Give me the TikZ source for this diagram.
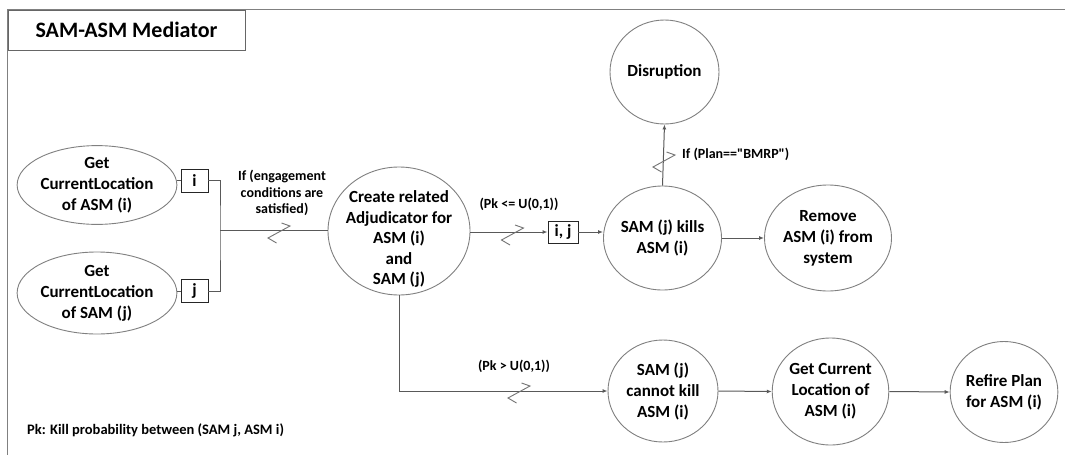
\documentclass[tikz,border=0pt]{standalone}
\usepackage{fontspec}
\setmainfont{Carlito}[Ligatures=TeXOff]
\usetikzlibrary{arrows.meta,shapes.geometric,calc}

\tikzset{
  state/.style={ellipse, draw=black!50, line width=0.9pt, inner sep=0pt,
    align=center, font=\fontsize{17}{21}\selectfont\bfseries},
  portbox/.style={rectangle, draw=black!85, line width=0.9pt, inner sep=0pt,
    font=\fontsize{17}{21}\selectfont\bfseries},
  link/.style={draw=black!65, line width=1pt},
  flow/.style={link, -{Latex[length=5pt,width=4pt]}},
  cond/.style={align=center, font=\fontsize{14}{16.5}\selectfont\bfseries, inner sep=0pt},
  zig/.style={draw=black!55, line width=0.9pt},
}
% zigzag transition mark centred on a point
\newcommand{\zigmark}[1]{\draw[zig] ($(#1)+(2.5,-9)$) -- ++(8.5,3) -- ++(-22,12) -- ++(8.5,5);}

\begin{document}
\begin{tikzpicture}[x=1pt,y=-1pt]
\useasboundingbox (0,0) rectangle (1065,455);
\fill[white] (0,0) rectangle (1065,455);

% frame and title
\draw[black!50, line width=1pt] (1065,9.5) -- (7.5,9.5) -- (7.5,455);
\node[rectangle, draw=black!60, line width=1pt, minimum width=237, minimum height=40.5,
  inner sep=0pt, anchor=north west, font=\fontsize{22}{26}\selectfont\bfseries]
  (title) at (7.5,9.5) {SAM-ASM Mediator};

% inputs
\node[state, minimum width=145, minimum height=76] (asmloc) at (97,185) {Get\\CurrentLocation\\of ASM (i)};
\node[state, minimum width=145, minimum height=82] (samloc) at (97,293) {Get\\CurrentLocation\\of SAM (j)};
\node[portbox, minimum width=27, minimum height=23] (pi) at (194.5,180.5) {i};
\node[portbox, minimum width=27, minimum height=23] (pj) at (194.5,291) {j};
\coordinate (fork) at (220,230);

% adjudicator
\node[state, minimum width=142, minimum height=128] (adj) at (399,231) {};
\node[cond, font=\fontsize{17}{20.5}\selectfont\bfseries] (adjtext) at (399,239)
  {Create related\\Adjudicator for\\ASM (i)\\and\\SAM (j)};

% outcomes
\node[portbox, minimum width=30, minimum height=22] (pij) at (563,232) {i, j};
\node[state, minimum width=109, minimum height=104] (kills) at (662.5,238) {SAM (j) kills\\ASM (i)};
\node[state, minimum width=109, minimum height=104] (disr) at (664.5,72) {Disruption};
\node[state, minimum width=112, minimum height=106] (remove) at (828,238) {Remove\\ASM (i) from\\system};
\node[state, minimum width=110, minimum height=102] (miss) at (663,391) {SAM (j)\\cannot kill\\ASM (i)};
\node[state, minimum width=111, minimum height=107] (getcur) at (830.5,391.5) {Get Current\\Location of\\ASM (i)};
\node[state, minimum width=102, minimum height=101] (refire) at (1004,392) {Refire Plan\\for ASM (i)};

% connectors
\draw[link] (pi.west) -- (pi.west -| asmloc.east);
\draw[link] (pj.west) -- (pj.west -| samloc.east);
\draw[link] (pi.east) -| (fork) |- (pj.east);
\draw[link] (fork) -- (fork -| adj.west);
\draw[flow] (adj.east |- pij.west) -- (pij.west);
\draw[flow] (pij.east) -- (pij.east -| kills.west);
\draw[flow] (kills.north) -- (disr.south);
\draw[flow] (kills.east) -- (remove.west);
\draw[flow] (adj.south) |- (miss.west);
\draw[flow] (miss.east) -- (getcur.west);
\draw[flow] (getcur.east) -- (refire.west);

% transition marks
\zigmark{279,232}
\zigmark{512.5,234}
\zigmark{664,161}
\zigmark{519,392}

% conditions
\node[cond] (c1) at (282,193) {If (engagement\\conditions are\\satisfied)};
\node[cond] (c2) at (519,204) {(Pk <= U(0,1))};
\node[cond, anchor=west] (c3) at (682,154) {If (Plan=="BMRP")};
\node[cond] (c4) at (514,366) {(Pk > U(0,1))};

% footnote
\node[cond, anchor=west, font=\fontsize{14.5}{17}\selectfont\bfseries] (note) at (27,430)
  {Pk: Kill probability between (SAM j, ASM i)};
\end{tikzpicture}
\end{document}
